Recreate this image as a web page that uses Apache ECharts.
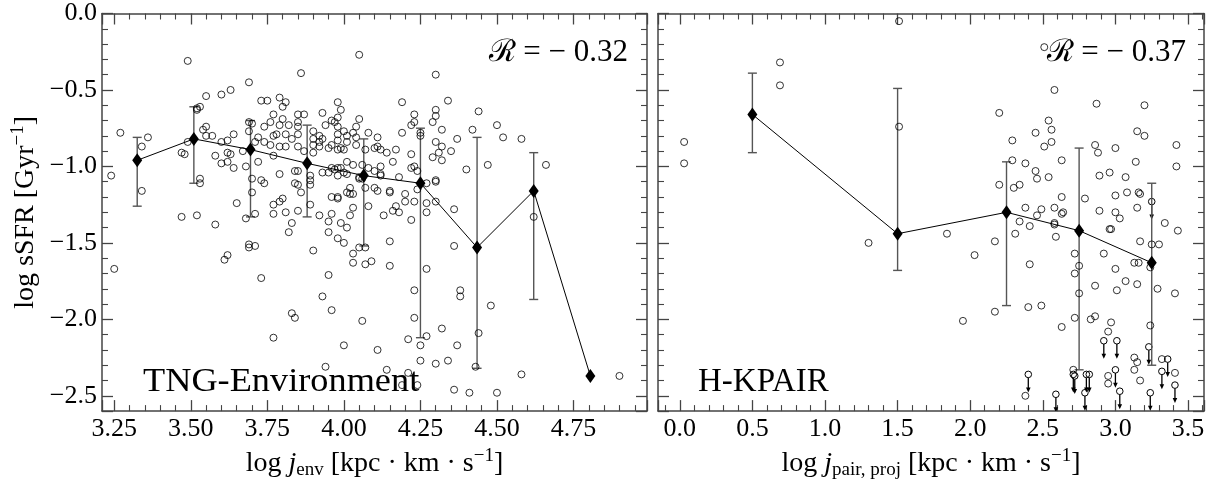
<!DOCTYPE html>
<html>
<head>
<meta charset="utf-8">
<script src="https://cdn.jsdelivr.net/npm/echarts@6/dist/echarts.min.js"></script>
<style>
  html, body { margin: 0; padding: 0; background: #fff; }
  #chart { width: 1212px; height: 485px; }
</style>
</head>
<body>
<div id="chart"></div>
<script>
// left panel: TNG-Environment, log j_env vs log sSFR
const envPoints = [
  [3.27,-0.78],[3.24,-1.06],[3.34,-0.87],[3.36,-0.81],[3.34,-1.16],[3.49,-0.31],[3.55,-0.54],[3.60,-0.53],[3.63,-0.50],[3.69,-0.45],
  [3.52,-0.62],[3.53,-0.61],[3.52,-0.63],[3.49,-0.84],[3.54,-0.76],[3.55,-0.74],[3.55,-0.80],[3.57,-0.80],[3.47,-0.91],[3.48,-0.92],
  [3.53,-1.08],[3.53,-1.11],[3.47,-1.33],[3.52,-1.32],[3.58,-1.38],[3.58,-0.93],[3.60,-0.98],[3.62,-0.97],[3.62,-0.91],[3.63,-0.92],
  [3.64,-1.01],[3.64,-0.79],[3.60,-0.84],[3.62,-0.83],[3.65,-1.24],[3.68,-1.00],[3.67,-0.90],[3.69,-0.77],[3.70,-0.72],[3.69,-0.71],
  [3.72,-0.97],[3.70,-1.08],[3.70,-1.17],[3.73,-1.09],[3.74,-1.11],[3.68,-1.34],[3.71,-1.31],[3.77,-1.31],[3.77,-1.25],[3.79,-1.23],
  [3.69,-1.51],[3.69,-1.53],[3.71,-1.52],[3.61,-1.61],[3.62,-1.58],[3.73,-0.57],[3.75,-0.57],[3.71,-0.84],[3.72,-0.81],[3.74,-0.74],
  [3.76,-0.71],[3.77,-0.66],[3.79,-0.55],[3.74,-0.84],[3.76,-0.86],[3.77,-0.80],[3.78,-0.79],[3.79,-0.87],[3.77,-0.93],[3.79,-1.05],
  [4.05,-0.27],[3.86,-0.39],[4.30,-0.40],[4.34,-0.57],[4.30,-0.63],[4.30,-0.67],[4.19,-0.58],[4.23,-0.66],[4.23,-0.71],[4.22,-0.73],
  [4.19,-0.78],[4.29,-0.71],[4.32,-0.76],[4.37,-0.82],[4.30,-0.84],[4.32,-0.87],[4.35,-0.90],[4.31,-0.91],[4.29,-0.94],[4.32,-0.96],
  [4.25,-0.78],[4.25,-0.80],[4.22,-0.92],[4.22,-1.01],[4.23,-1.00],[4.24,-1.03],[4.30,-1.10],[4.27,-1.11],[4.24,-1.15],[4.20,-1.18],
  [4.20,-1.23],[4.23,-1.23],[4.27,-1.24],[4.22,-1.35],[4.30,-1.23],[4.27,-1.30],[4.18,-1.30],[4.16,-1.29],[4.17,-1.26],[4.36,-1.28],
  [4.36,-1.52],[4.18,-1.07],[4.15,-1.17],[4.13,-1.32],[4.15,-1.49],[4.08,-0.78],[4.11,-0.81],[4.11,-0.87],[4.10,-0.88],[4.12,-0.89],
  [4.14,-0.91],[4.17,-0.89],[4.16,-0.97],[4.12,-1.00],[4.12,-1.05],[4.12,-1.06],[4.07,-0.89],[4.04,-0.86],[4.04,-0.81],[4.05,-0.69],
  [4.04,-0.74],[4.03,-0.78],[4.01,-0.80],[4.00,-0.77],[4.01,-0.84],[4.06,-0.99],[4.08,-1.01],[4.10,-1.03],[4.07,-1.14],[4.10,-1.14],
  [4.11,-1.16],[4.15,-1.16],[4.06,-1.08],[4.05,-1.08],[4.05,-1.07],[4.08,-1.26],[4.02,-1.32],[4.03,-1.27],[3.99,-1.37],[4.01,-1.40],
  [3.98,-1.47],[4.00,-1.50],[4.05,-1.53],[4.03,-1.57],[4.03,-1.63],[4.07,-1.53],[4.09,-1.62],[3.98,-1.20],[4.01,-1.17],[4.02,-1.18],
  [4.03,-1.18],[4.02,-1.14],[3.98,-1.06],[4.00,-1.04],[3.99,-1.01],[3.98,-1.01],[3.96,-1.01],[3.95,-1.04],[3.96,-1.20],[3.98,-1.21],
  [3.96,-1.31],[3.95,-1.36],[3.95,-1.43],[3.92,-1.32],[3.90,-1.55],[4.01,-0.97],[4.03,-0.99],[4.01,-1.05],[3.97,-1.02],[4.00,-0.89],
  [3.99,-0.88],[3.98,-0.89],[3.95,-0.88],[3.96,-0.86],[3.98,-0.83],[3.98,-0.79],[3.98,-0.74],[3.97,-0.71],[3.98,-0.68],[3.98,-0.58],
  [3.99,-0.63],[3.96,-0.70],[3.94,-0.73],[3.93,-0.65],[3.90,-0.77],[3.90,-0.82],[3.90,-0.86],[3.92,-0.80],[3.93,-0.82],[3.92,-0.84],
  [3.92,-0.87],[3.90,-0.91],[3.87,-0.90],[3.85,-0.87],[3.85,-0.79],[3.83,-0.82],[3.81,-0.87],[3.81,-0.58],[3.80,-0.61],[3.80,-0.69],
  [3.82,-0.73],[3.79,-0.73],[3.81,-0.79],[3.85,-0.66],[3.87,-0.66],[3.85,-0.71],[3.85,-0.74],[3.84,-1.03],[3.85,-1.03],[3.84,-1.11],
  [3.85,-1.12],[3.86,-1.17],[3.89,-1.09],[3.89,-1.12],[3.89,-1.06],[3.80,-1.21],[3.81,-1.30],[3.85,-1.29],[3.83,-1.37],[3.82,-1.43],
  [3.89,-1.25],[3.93,-1.04],[4.44,-0.64],[4.50,-0.73],[4.42,-0.76],[4.52,-0.81],[4.58,-0.82],[4.40,-1.02],[4.47,-0.99],[4.66,-0.99],
  [4.30,-1.09],[4.62,-1.33],[4.07,-1.64],[4.15,-1.65],[3.95,-1.71],[3.93,-1.85],[3.96,-1.94],[4.00,-2.17],[4.06,-2.01],[4.11,-2.20],
  [3.94,-2.31],[4.14,-2.33],[4.21,-2.35],[4.19,-2.43],[4.24,-2.43],[4.23,-1.81],[4.23,-1.99],[4.21,-2.13],[4.25,-2.17],[4.25,-2.27],
  [4.27,-1.67],[4.27,-2.11],[4.30,-2.29],[4.32,-2.06],[4.34,-2.27],[4.37,-2.17],[4.36,-2.46],[4.38,-1.81],[4.38,-1.85],[4.41,-2.48],
  [4.43,-2.31],[4.44,-2.09],[4.48,-1.91],[4.50,-2.48],[4.58,-2.36],[4.90,-2.37],[3.25,-1.67],[3.73,-1.73],[3.77,-2.12],[3.83,-1.96],
  [3.84,-1.99]
]
const envBinX = [3.325, 3.51, 3.695, 3.88, 4.065, 4.25, 4.435, 4.62, 4.805]
const envBinY = [-0.96, -0.82, -0.89, -0.98, -1.06, -1.11, -1.53, -1.16, -2.37]
const envBinLo = [-1.26, -1.11, -1.33, -1.33, -1.52, -2.12, -2.32, -1.87, null]
const envBinHi = [-0.81, -0.61, -0.70, -0.73, -0.82, -0.75, -0.81, -0.91, null]

// right panel: H-KPAIR, log j_pair,proj vs log sSFR
const pairPoints = [
  [0.03,-0.84],[0.03,-0.98],[0.69,-0.32],[0.69,-0.47],[1.51,-0.05],[1.51,-0.74],[1.30,-1.50],[1.84,-1.44],[1.95,-2.01],[2.03,-1.58],
  [2.17,-1.49],[2.17,-1.95],[2.20,-0.65],[2.20,-1.12],[2.29,-0.83],[2.29,-0.96],[2.30,-1.14],[2.34,-1.12],[2.31,-1.44],[2.34,-1.36],
  [2.38,-0.98],[2.38,-1.27],[2.38,-2.50],[2.41,-1.39],[2.41,-1.64],[2.40,-1.92],[2.45,-0.78],[2.45,-1.03],[2.46,-1.08],[2.46,-1.32],
  [2.49,-1.28],[2.49,-1.91],[2.51,-0.87],[2.51,-0.22],[2.54,-0.70],[2.54,-1.07],[2.56,-0.76],[2.56,-0.84],[2.58,-0.50],[2.58,-1.27],
  [2.58,-1.37],[2.58,-1.38],[2.59,-1.46],[2.63,-0.96],[2.63,-1.20],[2.63,-1.31],[2.64,-1.30],[2.63,-2.05],[2.72,-1.57],[2.72,-1.70],
  [2.72,-1.99],[2.71,-2.33],[2.75,-1.65],[2.75,-1.83],[2.79,-1.21],[2.86,-0.86],[2.87,-0.59],[2.88,-0.91],[2.89,-1.06],[2.89,-1.29],
  [2.92,-1.57],[2.86,-1.78],[2.83,-2.00],[2.86,-1.98],[2.95,-2.08],[2.95,-2.37],[2.95,-2.42],[2.96,-1.04],[2.96,-1.41],[2.97,-1.41],
  [3.00,-0.88],[3.00,-1.19],[3.00,-1.30],[3.00,-1.67],[3.01,-1.81],[3.03,-1.34],[2.97,-2.02],[3.07,-1.07],[3.07,-1.75],[3.08,-1.17],
  [3.13,-1.63],[3.13,-2.25],[3.13,-2.33],[3.14,-0.97],[3.15,-0.77],[3.15,-1.27],[3.15,-1.77],[3.15,-2.28],[3.16,-1.17],[3.17,-1.18],
  [3.17,-1.49],[3.16,-1.63],[3.17,-2.40],[3.20,-0.60],[3.20,-0.80],[3.24,-1.66],[3.24,-2.04],[3.25,-1.51],[3.30,-1.51],[3.29,-1.80],
  [3.34,-1.37],[3.32,-2.26],[3.41,-1.83],[3.41,-2.35],[3.42,-0.86],[3.42,-1.00],[3.43,-1.42]
]
// upper limits (drawn with a downward arrow)
const pairLimits = [
  [2.40,-2.36],[2.59,-2.49],[2.71,-2.36],[2.72,-2.37],[2.79,-2.48],[2.80,-2.36],[2.82,-2.36],[2.92,-2.14],[3.00,-2.33],[3.01,-2.14],
  [3.03,-2.47],[3.23,-2.18],[3.24,-2.48],[3.25,-1.23],[3.32,-2.34],[3.36,-2.26],[3.41,-2.43]
]
const pairBinX = [0.5, 1.5, 2.25, 2.75, 3.25]
const pairBinY = [-0.66, -1.44, -1.30, -1.42, -1.63]
const pairBinLo = [-0.91, -1.68, -1.91, -2.33, -2.30]
const pairBinHi = [-0.39, -0.49, -0.97, -0.88, -1.11]

const FONT = '"Liberation Serif", "DejaVu Serif", serif'
const axisColor = '#444'

const chart = echarts.init(document.getElementById('chart'))

function tickAxis(extra) {
  return Object.assign({
    type: 'value',
    axisLine: { show: true, onZero: false, lineStyle: { color: axisColor, width: 1.5 } },
    axisTick: { show: true, inside: true, length: 11, lineStyle: { color: axisColor, width: 1.3 } },
    minorTick: { show: true, splitNumber: 5, length: 6, lineStyle: { color: axisColor, width: 1.1 } },
    splitLine: { show: false },
    axisLabel: { show: false }
  }, extra)
}

function labels(step, digits) {
  return {
    show: true,
    color: '#000',
    fontFamily: FONT,
    fontSize: 26,
    margin: 5,
    formatter(v) {
      const k = v / step
      if (Math.abs(k - Math.round(k)) > 1e-6) return ''
      return v.toFixed(digits).replace('-', '\u2212')
    }
  }
}

const nameRich = {
  t: { fontFamily: FONT, fontSize: 28, color: '#000' },
  i: { fontFamily: FONT, fontSize: 28, fontStyle: 'italic', color: '#000' },
  sub: { fontFamily: FONT, fontSize: 19, color: '#000', padding: [14, 0, 0, 0] },
  sup: { fontFamily: FONT, fontSize: 19, color: '#000', padding: [0, 0, 14, 0] }
}

function errorBars(xs, lo, hi, xi, yi) {
  const data = []
  xs.forEach((x, i) => {
    if (lo[i] != null) data.push([x, lo[i], hi[i]])
  })
  return {
    type: 'custom',
    xAxisIndex: xi,
    yAxisIndex: yi,
    silent: true,
    encode: { x: 0, y: [1, 2] },
    data: data,
    renderItem(params, api) {
      const a = api.coord([api.value(0), api.value(1)])
      const b = api.coord([api.value(0), api.value(2)])
      const w = 4.5
      const st = { stroke: '#555', lineWidth: 1.4 }
      return {
        type: 'group',
        children: [
          { type: 'line', shape: { x1: a[0], y1: a[1], x2: b[0], y2: b[1] }, style: st },
          { type: 'line', shape: { x1: a[0] - w, y1: a[1], x2: a[0] + w, y2: a[1] }, style: st },
          { type: 'line', shape: { x1: b[0] - w, y1: b[1], x2: b[0] + w, y2: b[1] }, style: st }
        ]
      }
    }
  }
}

function circles(data, xi, yi) {
  return {
    type: 'scatter',
    xAxisIndex: xi,
    yAxisIndex: yi,
    silent: true,
    symbol: 'circle',
    symbolSize: 7,
    itemStyle: { color: 'rgba(0,0,0,0)', borderColor: '#000', borderWidth: 1 },
    data: data
  }
}

function binLine(xs, ys, xi, yi) {
  return {
    type: 'line',
    xAxisIndex: xi,
    yAxisIndex: yi,
    silent: true,
    symbol: 'diamond',
    symbolSize: [10, 14],
    showAllSymbol: true,
    lineStyle: { color: '#000', width: 1 },
    itemStyle: { color: '#000' },
    data: xs.map((x, i) => [x, ys[i]])
  }
}

chart.setOption({
  animation: false,
  backgroundColor: '#fff',
  grid: [
    { left: 102, top: 13.5, width: 545, height: 407 },
    { left: 658, top: 13.5, width: 546, height: 407 }
  ],
  xAxis: [
    tickAxis({
      gridIndex: 0, position: 'bottom', min: 3.21, max: 4.99, minInterval: 0.25, maxInterval: 0.25,
      axisLabel: labels(0.25, 2),
      name: '{t|log }{i|j}{sub|env}{t| [kpc · km · s}{sup|\u22121}{t|]}',
      nameLocation: 'middle', nameGap: 26,
      nameTextStyle: { rich: nameRich }
    }),
    tickAxis({ gridIndex: 0, position: 'top', min: 3.21, max: 4.99, minInterval: 0.25, maxInterval: 0.25 }),
    tickAxis({
      gridIndex: 1, position: 'bottom', min: -0.15, max: 3.61, minInterval: 0.5, maxInterval: 0.5,
      axisLabel: labels(0.5, 1),
      name: '{t|log }{i|j}{sub|pair, proj}{t| [kpc · km · s}{sup|\u22121}{t|]}',
      nameLocation: 'middle', nameGap: 26,
      nameTextStyle: { rich: nameRich }
    }),
    tickAxis({ gridIndex: 1, position: 'top', min: -0.15, max: 3.61, minInterval: 0.5, maxInterval: 0.5 })
  ],
  yAxis: [
    tickAxis({
      gridIndex: 0, position: 'left', min: -2.6, max: 0, minInterval: 0.5, maxInterval: 0.5,
      axisLabel: labels(0.5, 1),
      name: '{t|log sSFR [Gyr}{sup|\u22121}{t|]}',
      nameLocation: 'middle', nameGap: 60, nameRotate: 90,
      nameTextStyle: { rich: nameRich }
    }),
    tickAxis({ gridIndex: 0, position: 'right', min: -2.6, max: 0, minInterval: 0.5, maxInterval: 0.5 }),
    tickAxis({ gridIndex: 1, position: 'left', min: -2.6, max: 0, minInterval: 0.5, maxInterval: 0.5 }),
    tickAxis({ gridIndex: 1, position: 'right', min: -2.6, max: 0, minInterval: 0.5, maxInterval: 0.5 })
  ],
  series: [
    circles(envPoints, 0, 0),
    errorBars(envBinX, envBinLo, envBinHi, 0, 0),
    binLine(envBinX, envBinY, 0, 0),
    circles(pairPoints, 2, 2),
    {
      type: 'custom',
      xAxisIndex: 2,
      yAxisIndex: 2,
      silent: true,
      clip: true,
      encode: { x: 0, y: 1 },
      data: pairLimits,
      renderItem(params, api) {
        const p = api.coord([api.value(0), api.value(1)])
        const r = 3.3
        const len = 18
        return {
          type: 'group',
          children: [
            { type: 'circle', shape: { cx: p[0], cy: p[1], r: r }, style: { fill: 'none', stroke: '#000', lineWidth: 1 } },
            { type: 'line', shape: { x1: p[0], y1: p[1] + r, x2: p[0], y2: p[1] + len - 4 }, style: { stroke: '#000', lineWidth: 1.3 } },
            { type: 'polygon', shape: { points: [[p[0] - 2.3, p[1] + len - 5], [p[0] + 2.3, p[1] + len - 5], [p[0], p[1] + len]] }, style: { fill: '#000' } }
          ]
        }
      }
    },
    errorBars(pairBinX, pairBinLo, pairBinHi, 2, 2),
    binLine(pairBinX, pairBinY, 2, 2)
  ],
  graphic: [
    { type: 'text', x: 628, y: 53, style: { text: '\u211B = \u2212 0.32', font: '31px ' + FONT, fill: '#000', align: 'right', verticalAlign: 'middle', textAlign: 'right', textVerticalAlign: 'middle' } },
    { type: 'text', x: 1186, y: 53, style: { text: '\u211B = \u2212 0.37', font: '31px ' + FONT, fill: '#000', align: 'right', verticalAlign: 'middle', textAlign: 'right', textVerticalAlign: 'middle' } },
    { type: 'text', x: 143, y: 382, scaleX: 1.1, style: { text: 'TNG-Environment', font: '33px ' + FONT, fill: '#000', align: 'left', verticalAlign: 'middle', textAlign: 'left', textVerticalAlign: 'middle' } },
    { type: 'text', x: 698, y: 382, style: { text: 'H-KPAIR', font: '33px ' + FONT, fill: '#000', align: 'left', verticalAlign: 'middle', textAlign: 'left', textVerticalAlign: 'middle' } }
  ]
})
</script>
</body>
</html>
